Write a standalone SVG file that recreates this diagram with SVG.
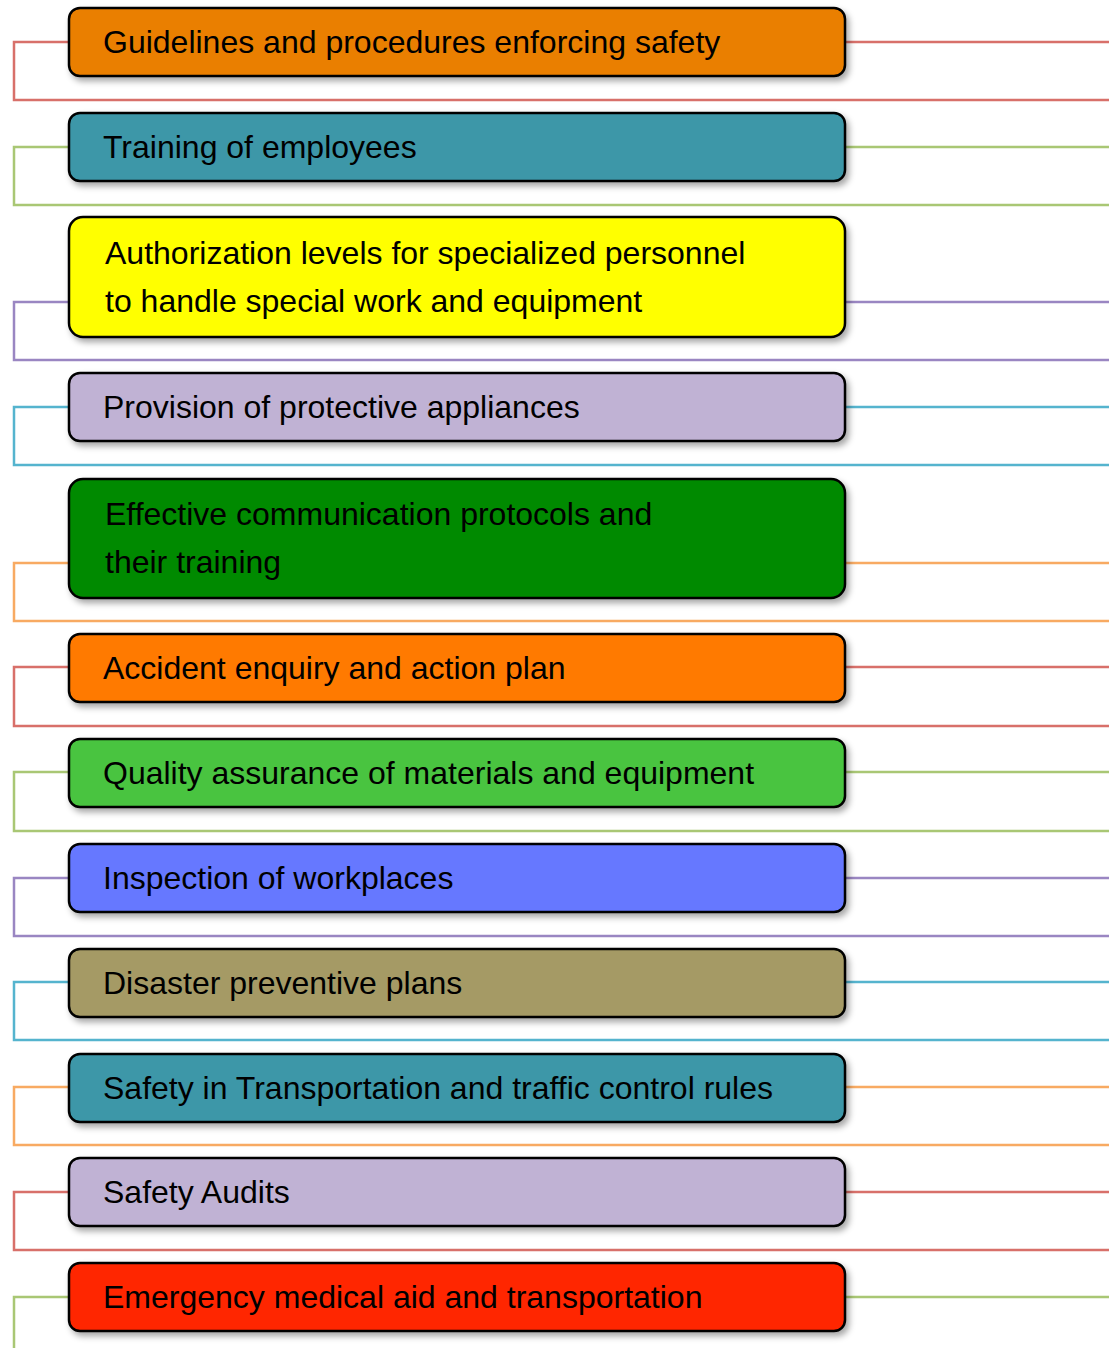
<svg xmlns="http://www.w3.org/2000/svg" width="1109" height="1348" viewBox="0 0 1109 1348">
<defs>
<filter id="sh" x="-5%" y="-20%" width="110%" height="150%">
<feDropShadow dx="3" dy="4" stdDeviation="3" flood-color="#000" flood-opacity="0.35"/>
</filter>
<style>
.box{stroke:#000;stroke-width:2.5;filter:url(#sh)}
.t{font-family:"Liberation Sans",Arial,sans-serif;font-size:32px;fill:#000}
.c{fill:none;stroke-width:2.5}
.red{stroke:#D8706A}.grn{stroke:#A9C774}.pur{stroke:#9A86C2}.cyn{stroke:#55B4CE}.org{stroke:#F8AA62}
</style>
</defs>
<rect width="1109" height="1348" fill="#fff"/>
<g id="connectors">
<path class="c red" d="M69 42H14V100H1109M845 42H1109"/>
<path class="c grn" d="M69 147H14V205H1109M845 147H1109"/>
<path class="c pur" d="M69 302H14V360H1109M845 302H1109"/>
<path class="c cyn" d="M69 407H14V465H1109M845 407H1109"/>
<path class="c org" d="M69 563H14V621H1109M845 563H1109"/>
<path class="c red" d="M69 667H14V726H1109M845 667H1109"/>
<path class="c grn" d="M69 772H14V831H1109M845 772H1109"/>
<path class="c pur" d="M69 878H14V936H1109M845 878H1109"/>
<path class="c cyn" d="M69 982H14V1040H1109M845 982H1109"/>
<path class="c org" d="M69 1087H14V1145H1109M845 1087H1109"/>
<path class="c red" d="M69 1192H14V1250H1109M845 1192H1109"/>
<path class="c grn" d="M69 1297H14V1348M845 1297H1109"/>
</g>
<g id="n1"><rect class="box" x="69" y="8" width="776" height="68" rx="11" fill="#EA7F05"/><text class="t" x="103" y="53">Guidelines and procedures enforcing safety</text></g>
<g id="n2"><rect class="box" x="69" y="113" width="776" height="68" rx="11" fill="#3C97A8"/><text class="t" x="103" y="158">Training of employees</text></g>
<g id="n3"><rect class="box" x="69" y="217" width="776" height="120" rx="14" fill="#FFFF00"/><text class="t" x="105" y="264">Authorization levels for specialized personnel</text><text class="t" x="105" y="312">to handle special work and equipment</text></g>
<g id="n4"><rect class="box" x="69" y="373" width="776" height="68" rx="11" fill="#C0B2D4"/><text class="t" x="103" y="418">Provision of protective appliances</text></g>
<g id="n5"><rect class="box" x="69" y="479" width="776" height="119" rx="14" fill="#008A00"/><text class="t" x="105" y="525">Effective communication protocols and</text><text class="t" x="105" y="573">their training</text></g>
<g id="n6"><rect class="box" x="69" y="634" width="776" height="68" rx="11" fill="#FF7A00"/><text class="t" x="103" y="679">Accident enquiry and action plan</text></g>
<g id="n7"><rect class="box" x="69" y="739" width="776" height="68" rx="11" fill="#48C43F"/><text class="t" x="103" y="784">Quality assurance of materials and equipment</text></g>
<g id="n8"><rect class="box" x="69" y="844" width="776" height="68" rx="11" fill="#6678FF"/><text class="t" x="103" y="889">Inspection of workplaces</text></g>
<g id="n9"><rect class="box" x="69" y="949" width="776" height="68" rx="11" fill="#A59A65"/><text class="t" x="103" y="994">Disaster preventive plans</text></g>
<g id="n10"><rect class="box" x="69" y="1054" width="776" height="68" rx="11" fill="#3C97A8"/><text class="t" x="103" y="1099">Safety in Transportation and traffic control rules</text></g>
<g id="n11"><rect class="box" x="69" y="1158" width="776" height="68" rx="11" fill="#C0B2D4"/><text class="t" x="103" y="1203">Safety Audits</text></g>
<g id="n12"><rect class="box" x="69" y="1263" width="776" height="68" rx="11" fill="#FF2500"/><text class="t" x="103" y="1308">Emergency medical aid and transportation</text></g>
</svg>
